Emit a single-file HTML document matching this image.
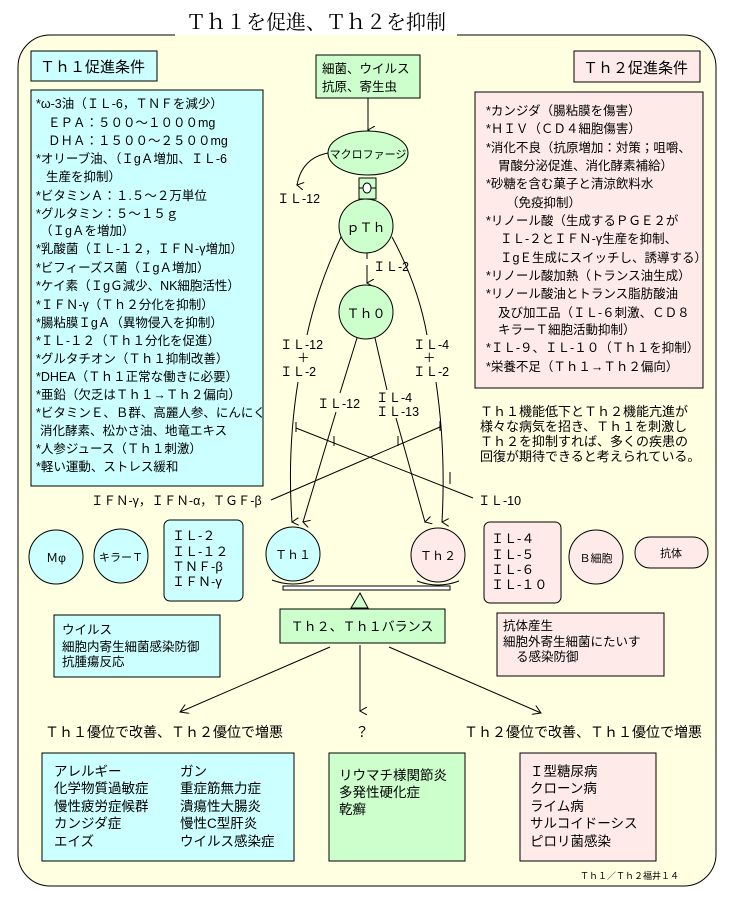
<!DOCTYPE html>
<html><head><meta charset="utf-8"><style>
body{margin:0;background:#fff;}
svg text{font-family:"Liberation Sans","Noto Sans CJK JP",sans-serif;fill:#000;}
</style></head><body>
<svg width="731" height="904" viewBox="0 0 731 904" xmlns="http://www.w3.org/2000/svg">
<defs><marker id="ar" markerWidth="8" markerHeight="8" refX="4" refY="7" orient="auto-start-reverse" markerUnits="userSpaceOnUse"><path d="M0,0 L4,7 L8,0" fill="none" stroke="#000" stroke-width="1"/></marker>
<marker id="ar2" markerWidth="10" markerHeight="10" refX="8" refY="5" orient="auto" markerUnits="userSpaceOnUse"><path d="M0,0 L8,5 L0,10" fill="none" stroke="#000" stroke-width="1"/></marker></defs>
<rect x="18" y="35" width="698" height="851" rx="32" fill="#ffffe1" stroke="#000"/>
<rect x="175" y="20" width="282" height="20" fill="#ffffe1"/>
<rect x="175" y="8" width="282" height="27" fill="#fff"/>
<text x="316" y="29" font-size="20" text-anchor="middle" style="font-family:'Liberation Serif','Noto Serif CJK SC',serif">Ｔｈ１を促進、Ｔｈ２を抑制</text>

<rect x="31" y="51" width="126" height="30" fill="#ccffff" stroke="#000"/>
<text x="40" y="72" font-size="15">Ｔｈ１促進条件</text>
<rect x="574" y="51" width="126" height="31" fill="#ffeaea" stroke="#000"/>
<text x="583" y="73" font-size="15">Ｔｈ２促進条件</text>

<rect x="31" y="90" width="232" height="396" fill="#ccffff" stroke="#000"/>
<g font-size="12.5">
<text x="36" y="108">*ω-3油（ＩＬ-6，ＴＮＦを減少）</text>
<text x="48" y="127">ＥＰＡ：５００～１０００mg</text>
<text x="48" y="145">ＤＨＡ：１５００～２５００mg</text>
<text x="36" y="163">*オリーブ油、（ＩgＡ増加、ＩＬ-6</text>
<text x="46" y="181">生産を抑制）</text>
<text x="36" y="200">*ビタミンＡ：１.５～２万単位</text>
<text x="36" y="218">*グルタミン：５～１５ｇ</text>
<text x="40" y="235">（ＩgＡを増加）</text>
<text x="36" y="253">*乳酸菌（ＩＬ-１２，ＩＦＮ-γ増加）</text>
<text x="36" y="272">*ビフィーズス菌（ＩgＡ増加）</text>
<text x="36" y="290">*ケイ素（ＩgＧ減少、NK細胞活性）</text>
<text x="36" y="309">*ＩＦＮ-γ（Ｔｈ２分化を抑制）</text>
<text x="36" y="327">*腸粘膜ＩgＡ（異物侵入を抑制）</text>
<text x="36" y="345">*ＩＬ-１２（Ｔｈ１分化を促進）</text>
<text x="36" y="363">*グルタチオン（Ｔｈ１抑制改善）</text>
<text x="36" y="381">*DHEA（Ｔｈ１正常な働きに必要）</text>
<text x="36" y="399">*亜鉛（欠乏はＴｈ１→Ｔｈ２偏向）</text>
<text x="36" y="417">*ビタミンＥ、Ｂ群、高麗人参、にんにく</text>
<text x="40" y="435">消化酵素、松かさ油、地竜エキス</text>
<text x="36" y="453">*人参ジュース（Ｔｈ１刺激）</text>
<text x="36" y="471">*軽い運動、ストレス緩和</text>
</g>

<rect x="475" y="92" width="228" height="296" fill="#ffeaea" stroke="#000"/>
<g font-size="12.5">
<text x="486" y="115">*カンジダ（腸粘膜を傷害）</text>
<text x="486" y="133">*ＨＩＶ（ＣＤ４細胞傷害）</text>
<text x="486" y="152">*消化不良（抗原増加：対策；咀嚼、</text>
<text x="498" y="170">胃酸分泌促進、消化酵素補給）</text>
<text x="486" y="188">*砂糖を含む菓子と清涼飲料水</text>
<text x="506" y="207">（免疫抑制）</text>
<text x="486" y="225">*リノール酸（生成するＰＧＥ２が</text>
<text x="500" y="243">ＩＬ-２とＩＦＮ-γ生産を抑制、</text>
<text x="500" y="262">ＩgＥ生成にスイッチし、誘導する）</text>
<text x="486" y="280">*リノール酸加熱（トランス油生成）</text>
<text x="486" y="298">*リノール酸油とトランス脂肪酸油</text>
<text x="498" y="317">及び加工品（ＩＬ-６刺激、ＣＤ８</text>
<text x="498" y="334">キラーＴ細胞活動抑制）</text>
<text x="486" y="352">*ＩＬ-９、ＩＬ-１０（Ｔｈ１を抑制）</text>
<text x="486" y="371">*栄養不足（Ｔｈ１→Ｔｈ２偏向）</text>
</g>

<rect x="316" y="55" width="104" height="43" fill="#ccffcc" stroke="#000"/>
<text x="322" y="73" font-size="12.5">細菌、ウイルス</text>
<text x="322" y="91" font-size="12.5">抗原、寄生虫</text>
<line x1="368" y1="98" x2="368" y2="130" stroke="#000" marker-end="url(#ar)"/>
<ellipse cx="368" cy="153" rx="40" ry="22" fill="#ccffcc" stroke="#000"/>
<text x="368" y="158" font-size="11" text-anchor="middle">マクロファージ</text>
<path d="M328,153 Q302,158 297,185" fill="none" stroke="#000" marker-end="url(#ar)"/>
<text x="277" y="203" font-size="12.5">ＩＬ-12</text>
<rect x="359" y="178" width="17" height="21" fill="#ccffcc" stroke="#000"/>
<line x1="359" y1="188" x2="376" y2="188" stroke="#000"/>
<ellipse cx="367" cy="188" rx="4" ry="5" fill="#fff" stroke="#000"/>
<circle cx="366" cy="226" r="27" fill="#ccffcc" stroke="#000"/>
<text x="366" y="232" font-size="13" text-anchor="middle">ｐＴｈ</text>
<line x1="367" y1="253" x2="367" y2="283" stroke="#000" stroke-dasharray="6,6 30" marker-end="url(#ar)"/>
<text x="373" y="271" font-size="12.5">ＩＬ-2</text>
<circle cx="366" cy="312" r="27" fill="#ccffcc" stroke="#000"/>
<text x="366" y="318" font-size="13" text-anchor="middle">Ｔｈ０</text>

<g fill="none" stroke="#000">
<path d="M341,237 Q318,285 307,335"/>
<path d="M298,382 Q287,450 292,522" marker-end="url(#ar)"/>
<path d="M392,237 Q418,285 427,335"/>
<path d="M436,382 Q446,450 442,522" marker-end="url(#ar)"/>
<path d="M357,338 L340,393"/>
<path d="M336,412 L303,522" marker-end="url(#ar)"/>
<path d="M375,338 L387,390"/>
<path d="M396,418 L425,522" marker-end="url(#ar)"/>
<path d="M296,428 L473,498"/>
<path d="M440,427 L271,500"/>
<path d="M296,422 V432 M440,421 V431 M334,436 V446 M398,436 V446 M450,472 V484"/>
</g>
<g font-size="12.5">
<text x="280" y="349">ＩＬ-12</text><text x="297" y="362">＋</text><text x="280" y="376">ＩＬ-2</text>
<text x="413" y="349">ＩＬ-4</text><text x="423" y="362">＋</text><text x="413" y="376">ＩＬ-2</text>
<text x="317" y="408">ＩＬ-12</text>
<text x="376" y="402">ＩＬ-4</text><text x="376" y="416">ＩＬ-13</text>
<text x="91" y="505">ＩＦＮ-γ，ＩＦＮ-α，ＴＧＦ-β</text>
<text x="478" y="505">ＩＬ-10</text>
</g>
<g font-size="13">
<text x="480" y="416">Ｔｈ１機能低下とＴｈ２機能亢進が</text>
<text x="480" y="431">様々な病気を招き、Ｔｈ１を刺激し</text>
<text x="480" y="446">Ｔｈ２を抑制すれば、多くの疾患の</text>
<text x="480" y="461">回復が期待できると考えられている。</text>
</g>

<circle cx="56" cy="557" r="27" fill="#ccffff" stroke="#000"/>
<text x="56" y="562" font-size="12" text-anchor="middle">Ｍφ</text>
<circle cx="121" cy="556" r="27" fill="#ccffff" stroke="#000"/>
<text x="121" y="561" font-size="11" text-anchor="middle">キラーＴ</text>
<rect x="164" y="520" width="79" height="81" rx="6" fill="#ccffff" stroke="#000"/>
<g font-size="13"><text x="172" y="540">ＩＬ-２</text><text x="172" y="556">ＩＬ-１２</text><text x="172" y="571">ＴＮＦ-β</text><text x="172" y="586">ＩＦＮ-γ</text></g>
<circle cx="293" cy="554" r="27" fill="#ccffff" stroke="#000"/>
<text x="293" y="559" font-size="12" text-anchor="middle">Ｔｈ１</text>
<circle cx="438" cy="555" r="27" fill="#ffeaea" stroke="#000"/>
<text x="438" y="560" font-size="12" text-anchor="middle">Ｔｈ２</text>
<path d="M272,580 Q293,588 314,580 M417,581 Q438,589 459,581" fill="none" stroke="#000"/>
<rect x="283" y="586" width="167" height="4" fill="#fff" stroke="#000"/>
<path d="M351,608 L360,593 L368,608 Z" fill="#ccffcc" stroke="#000"/>
<rect x="484" y="522" width="77" height="81" rx="6" fill="#ffeaea" stroke="#000"/>
<g font-size="13"><text x="491" y="543">ＩＬ-４</text><text x="491" y="559">ＩＬ-５</text><text x="491" y="574">ＩＬ-６</text><text x="491" y="589">ＩＬ-１０</text></g>
<circle cx="596" cy="557" r="27" fill="#ffeaea" stroke="#000"/>
<text x="596" y="562" font-size="11" text-anchor="middle">Ｂ細胞</text>
<rect x="635" y="537" width="73" height="31" rx="15" fill="#ffeaea" stroke="#000"/>
<text x="671" y="557" font-size="11" text-anchor="middle">抗体</text>

<rect x="280" y="609" width="165" height="34" fill="#ccffcc" stroke="#000"/>
<text x="362" y="631" font-size="13" text-anchor="middle">Ｔｈ２、Ｔｈ１バランス</text>
<rect x="54" y="615" width="166" height="62" fill="#ccffff" stroke="#000"/>
<g font-size="12.5"><text x="62" y="634">ウイルス</text><text x="62" y="651">細胞内寄生細菌感染防御</text><text x="62" y="666">抗腫瘍反応</text></g>
<rect x="497" y="613" width="167" height="63" fill="#ffeaea" stroke="#000"/>
<g font-size="12.5"><text x="503" y="630">抗体産生</text><text x="503" y="646">細胞外寄生細菌にたいす</text><text x="516" y="661">る感染防御</text></g>
<g stroke="#000" fill="none">
<line x1="330" y1="647" x2="180" y2="712" marker-end="url(#ar2)"/>
<line x1="360" y1="645" x2="360" y2="711" marker-end="url(#ar)"/>
<line x1="389" y1="647" x2="541" y2="713" marker-end="url(#ar2)"/>
</g>
<g font-size="14">
<text x="45" y="737">Ｔｈ１優位で改善、Ｔｈ２優位で増悪</text>
<text x="355" y="737">？</text>
<text x="464" y="737">Ｔｈ２優位で改善、Ｔｈ１優位で増悪</text>
</g>
<rect x="42" y="753" width="252" height="108" fill="#ccffff" stroke="#000"/>
<g font-size="13.5"><text x="54" y="776">アレルギー</text><text x="54" y="793">化学物質過敏症</text><text x="54" y="811">慢性疲労症候群</text><text x="54" y="828">カンジダ症</text><text x="54" y="846">エイズ</text>
<text x="180" y="776">ガン</text><text x="180" y="793">重症筋無力症</text><text x="180" y="811">潰瘍性大腸炎</text><text x="180" y="828">慢性C型肝炎</text><text x="180" y="846">ウイルス感染症</text></g>
<rect x="329" y="753" width="136" height="108" fill="#ccffcc" stroke="#000"/>
<g font-size="13.5"><text x="339" y="780">リウマチ様関節炎</text><text x="339" y="797">多発性硬化症</text><text x="339" y="814">乾癬</text></g>
<rect x="520" y="753" width="136" height="108" fill="#ffeaea" stroke="#000"/>
<g font-size="13.5"><text x="530" y="776">Ｉ型糖尿病</text><text x="530" y="793">クローン病</text><text x="530" y="811">ライム病</text><text x="530" y="828">サルコイドーシス</text><text x="530" y="846">ピロリ菌感染</text></g>
<text x="580" y="879" font-size="9">Ｔｈ１／Ｔｈ２福井１４</text>
</svg>
</body></html>
